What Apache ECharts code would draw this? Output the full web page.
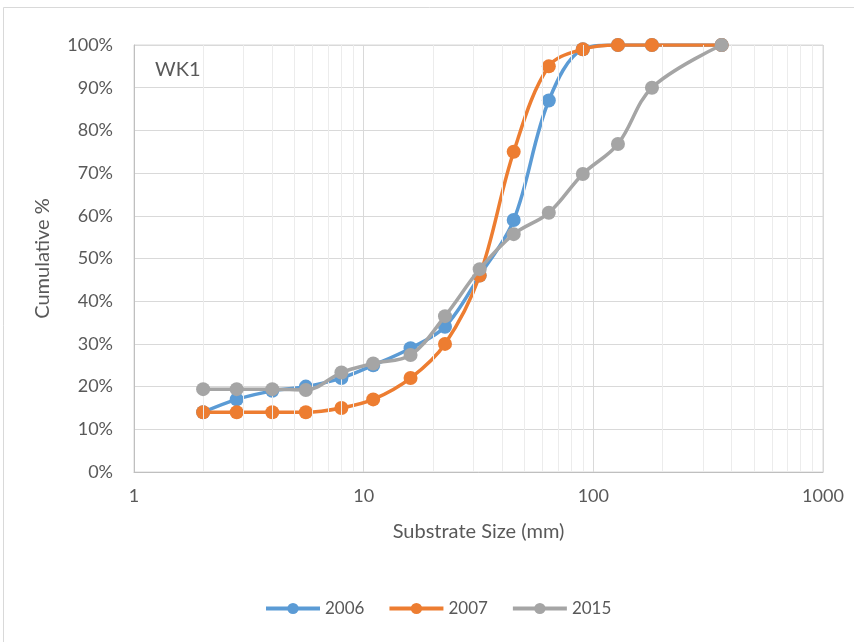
<!DOCTYPE html>
<html>
<head>
<meta charset="utf-8">
<script src="https://cdn.jsdelivr.net/npm/echarts@6/dist/echarts.min.js"></script>
<style>html,body{margin:0;padding:0;background:#fff;}#c{width:854px;height:642px;}</style>
</head>
<body>
<div id="c"></div>
<script>
const sizes = [2, 2.8, 4, 5.6, 8, 11, 16, 22.6, 32, 45, 64, 90, 128, 180, 362];
const y2006 = [14, 17, 19, 20, 22, 25, 29, 34, 46, 59, 87, 99, 100, 100, 100];
const y2007 = [14, 14, 14, 14, 15, 17, 22, 30, 46, 75, 95, 99, 100, 100, 100];
const y2015 = [19.4, 19.4, 19.4, 19.2, 23.3, 25.4, 27.4, 36.5, 47.5, 55.7, 60.7, 69.8, 76.8, 90, 100];
const seriesNames = ['2006', '2007', '2015'];
const xTicks = [1, 10, 100, 1000];
const minorGrid = [2,3,4,5,6,7,8,9,20,30,40,50,60,70,80,90,200,300,400,500,600,700,800,900];

const FONT = 'Lato';
const TXT = '#595959';
const colors = ['#5B9BD5', '#ED7D31', '#A5A5A5'];
const ys = [y2006, y2007, y2015];

const chart = echarts.init(document.getElementById('c'), null, {renderer: 'canvas'});
const series = [{
  name: 'minor', type: 'line', data: [], silent: true, z: 1,
  markLine: {
    silent: true, symbol: ['none', 'none'], label: {show: false},
    lineStyle: {color: '#ececec', width: 1, type: 'solid'},
    animation: false,
    data: minorGrid.map(v => ({xAxis: v}))
  }
}];
seriesNames.forEach((n, i) => {
  series.push({
    name: n, type: 'line', smooth: 0.35, z: 3 + i,
    data: sizes.map((s, k) => [s, ys[i][k]]),
    symbol: 'circle', symbolSize: 14,
    lineStyle: {color: colors[i], width: 3.5},
    itemStyle: {color: colors[i]},
    emphasis: {disabled: true}
  });
});

chart.setOption({
  animation: false,
  backgroundColor: '#fff',
  textStyle: {fontFamily: FONT},
  grid: {left: 134, right: 31, top: 45, bottom: 170, show: true, borderColor: '#d9d9d9', borderWidth: 1},
  graphic: [
    {type: 'rect', shape: {x: 3.5, y: 7.5, width: 870, height: 660}, style: {fill: 'none', stroke: '#d9d9d9', lineWidth: 1}, silent: true, z: -1},
    {type: 'text', left: 155, top: 60, style: {text: 'WK1', font: '20px ' + FONT, fill: TXT}}
  ],
  xAxis: {
    type: 'log', min: 1, max: 1000, logBase: 10,
    name: 'Substrate Size (mm)', nameLocation: 'middle', nameGap: 50,
    nameTextStyle: {color: TXT, fontSize: 20, fontFamily: FONT},
    axisLine: {show: true, lineStyle: {color: '#bfbfbf', width: 1}},
    axisTick: {show: false},
    axisLabel: {color: TXT, fontSize: 18, margin: 15, fontFamily: FONT,
      formatter: v => (xTicks.indexOf(Math.round(v)) >= 0 ? String(Math.round(v)) : '')},
    splitLine: {show: true, lineStyle: {color: '#d9d9d9', width: 1}},
    minorTick: {show: false}, minorSplitLine: {show: false}
  },
  yAxis: {
    type: 'value', min: 0, max: 100, interval: 10,
    name: 'Cumulative %', nameLocation: 'middle', nameGap: 81, nameRotate: 90,
    nameTextStyle: {color: TXT, fontSize: 20, fontFamily: FONT},
    axisLine: {show: true, lineStyle: {color: '#bfbfbf', width: 1}},
    axisTick: {show: false},
    axisLabel: {color: TXT, fontSize: 18, margin: 21, formatter: '{value}%', fontFamily: FONT},
    splitLine: {show: true, lineStyle: {color: '#d9d9d9', width: 1}}
  },
  legend: {
    data: seriesNames, bottom: 20, left: 259,
    itemWidth: 54, itemHeight: 14, itemGap: 23, itemStyle: {},
    lineStyle: {width: 4},
    textStyle: {color: TXT, fontSize: 17, fontFamily: FONT}
  },
  series: series
});
</script>
</body>
</html>
